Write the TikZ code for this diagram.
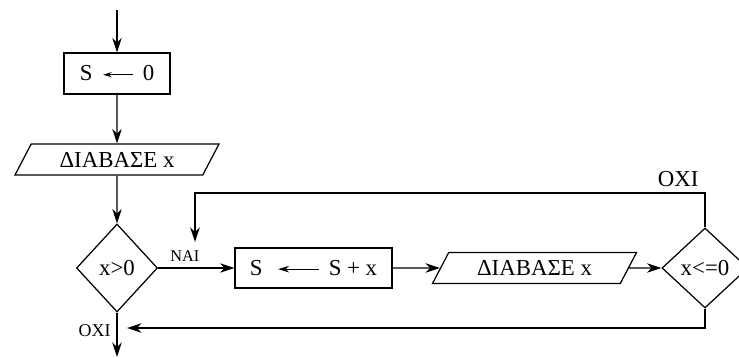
\documentclass[tikz,border=0pt]{standalone}
\usepackage{fontspec}
\setmainfont{Liberation Serif}
\usetikzlibrary{arrows.meta,shapes.geometric}
\newcommand\flowfont{\fontsize{13}{15}\selectfont}
\newcommand\yesfont{\fontsize{9.3}{11}\selectfont}
\newcommand\nofont{\fontsize{10.2}{12}\selectfont}
% left arrow inside a box, #1 = length, #2 = head length
\newcommand\assignarrow[2]{\tikz[baseline=-0.6ex]\draw[line width=0.7pt,
  -{Stealth[length=#2,width=0.6*#2]}](#1,0)--(0,0);}
\tikzset{
  flowbox/.style={draw,line width=0.7pt,rectangle,inner sep=1pt,
    font=\flowfont},
  iobox/.style={draw,line width=0.7pt,trapezium,trapezium left angle=49,
    trapezium right angle=131,trapezium stretches body,
    minimum width=4.08cm,minimum height=0.62cm,inner sep=1pt,font=\flowfont},
  testbox/.style={draw,line width=0.7pt,diamond,aspect=1,inner sep=0pt,
    font=\flowfont},
  flowline/.style={line width=0.7pt,-{Stealth[length=0.29cm,width=0.19cm]}},
}
\begin{document}
\begin{tikzpicture}
\useasboundingbox (0,0) rectangle (14.78,7.16);
\coordinate(start) at(2.34,6.96);
\node[flowbox,minimum width=2.12cm,minimum height=0.82cm](init)
  at(2.34,5.69){S\hspace{0.2cm}\assignarrow{0.6}{0.17cm}\hspace{0.18cm}0};
\node[iobox](read1)
  at(2.34,3.97){ΔΙΑΒΑΣΕ x};
\node[testbox,minimum width=1.62cm,minimum height=1.76cm](test1)
  at(2.34,1.80){x>0};
\node[flowbox,minimum width=3.14cm,minimum height=0.80cm](add)
  at(6.27,1.80){S\hspace{0.3cm}\assignarrow{0.82}{0.22cm}\hspace{0.18cm}S + x};
\node[iobox](read2)
  at(10.69,1.80){ΔΙΑΒΑΣΕ x};
\node[testbox,minimum width=1.72cm,minimum height=1.60cm](test2)
  at(14.10,1.80){x<=0};
\coordinate(loopcorner) at(3.90,3.30);
\coordinate(loopend) at(3.90,2.32);
\coordinate(exitend) at(2.54,0.60);
\coordinate(stop) at(2.34,0.02);
\draw[flowline](start)--(init);
\draw[flowline](init)--(read1);
\draw[flowline](read1)--(test1);
\draw[flowline](test1)--node[above,pos=0.35,font=\yesfont]{ΝΑΙ}(add);
\draw[flowline](add)--(read2);
\draw[flowline](read2)--(test2);
\draw[flowline](test2.north)|-node[pos=0.5,above left,font=\flowfont]{ΟΧΙ}
  (loopcorner)--(loopend);
\draw[flowline](test2.south)|-(exitend);
\draw[flowline](test1.south)--node[left,pos=0.41,font=\nofont]{ΟΧΙ}(stop);
\end{tikzpicture}
\end{document}
